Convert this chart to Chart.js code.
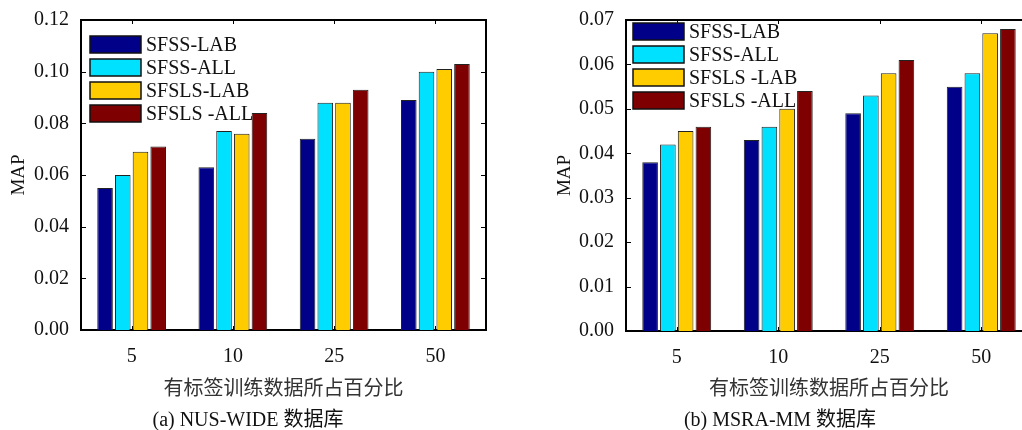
<!DOCTYPE html>
<html>
<head>
<meta charset="utf-8">
<script src="https://cdn.jsdelivr.net/npm/chart.js@4.4.0/dist/chart.umd.min.js"></script>
<style>
html, body { margin: 0; padding: 0; background: #fff; overflow: hidden; width: 1022px; height: 430px; }
.box { position: absolute; top: 0; height: 430px; }
#boxA { left: 0; width: 511px; }
#boxB { left: 511px; width: 540px; }
</style>
</head>
<body>
<div class="box" id="boxA"><canvas id="chartA" width="511" height="430"></canvas></div>
<div class="box" id="boxB"><canvas id="chartB" width="540" height="430"></canvas></div>
<script>
// data
var categories = ['5', '10', '25', '50'];
var labelsA = ['SFSS-LAB', 'SFSS-ALL', 'SFSLS-LAB', 'SFSLS -ALL'];
var labelsB = ['SFSS-LAB', 'SFSS-ALL', 'SFSLS -LAB', 'SFSLS -ALL'];
var seriesColors = ['#000088', '#00E1FF', '#FFCC00', '#7F0000'];

// (a) NUS-WIDE
var nusSfssLab = [0.055, 0.063, 0.074, 0.089];
var nusSfssAll = [0.060, 0.077, 0.088, 0.100];
var nusSfslsLab = [0.069, 0.076, 0.088, 0.101];
var nusSfslsAll = [0.071, 0.084, 0.093, 0.103];
var nusTicks = { max: 0.12, step: 0.02 };

// (b) MSRA-MM
var msraSfssLab = [0.038, 0.043, 0.049, 0.055];
var msraSfssAll = [0.042, 0.046, 0.053, 0.058];
var msraSfslsLab = [0.045, 0.050, 0.058, 0.067];
var msraSfslsAll = [0.046, 0.054, 0.061, 0.068];
var msraTicks = { max: 0.07, step: 0.01 };

var xTitle = '有标签训练数据所占百分比';
var serif = '"Liberation Serif", "Times New Roman", "Noto Sans CJK SC", serif';

// inward tick marks + box frame, matlab style
var frameTicks = {
    id: 'frameTicks',
    afterDraw: function (chart) {
        var ctx = chart.ctx, a = chart.chartArea;
        var xs = chart.scales.x, ys = chart.scales.y;
        ctx.save();
        ctx.strokeStyle = '#000';
        ctx.lineWidth = 1;
        ctx.beginPath();
        ys.ticks.forEach(function (t, i) {
            var y = Math.round(ys.getPixelForTick(i)) + 0.5;
            ctx.moveTo(a.left, y); ctx.lineTo(a.left + 5, y);
            ctx.moveTo(a.right - 5, y); ctx.lineTo(a.right, y);
        });
        xs.ticks.forEach(function (t, i) {
            var x = Math.round(xs.getPixelForTick(i)) + 0.5;
            ctx.moveTo(x, a.bottom); ctx.lineTo(x, a.bottom - 4);
            ctx.moveTo(x, a.top); ctx.lineTo(x, a.top + 4);
        });
        ctx.stroke();
        ctx.lineWidth = 2;
        ctx.beginPath();
        ctx.moveTo(a.left, a.top); ctx.lineTo(a.right, a.top); ctx.lineTo(a.right, a.bottom);
        ctx.stroke();
        ctx.restore();
    }
};

// legend drawn inside plot, no frame
var boxLegend = {
    id: 'boxLegend',
    afterDraw: function (chart, args, opts) {
        var ctx = chart.ctx, a = chart.chartArea;
        ctx.save();
        ctx.font = '20px ' + serif;
        ctx.textBaseline = 'middle';
        ctx.textAlign = 'left';
        chart.data.datasets.forEach(function (ds, i) {
            var x = a.left + opts.x, y = a.top + opts.y + i * opts.step;
            ctx.fillStyle = ds.backgroundColor;
            ctx.fillRect(x, y, 51, 17);
            ctx.strokeStyle = '#111';
            ctx.lineWidth = 1.5;
            ctx.strokeRect(x, y, 51, 17);
            ctx.fillStyle = '#111';
            ctx.fillText(ds.label, x + 56, y + 9.5);
        });
        ctx.restore();
    }
};

var caption = {
    id: 'caption',
    afterDraw: function (chart, args, opts) {
        var ctx = chart.ctx;
        ctx.save();
        ctx.font = '20px ' + serif;
        ctx.fillStyle = '#111';
        ctx.textAlign = 'center';
        ctx.textBaseline = 'middle';
        ctx.fillText(opts.text, opts.x, opts.y);
        ctx.restore();
    }
};

function makeDatasets(labels, rows) {
    return rows.map(function (vals, i) {
        return {
            label: labels[i],
            data: vals,
            backgroundColor: seriesColors[i],
            borderColor: '#222',
            borderWidth: 1,
            categoryPercentage: 0.7,
            barPercentage: 0.88
        };
    });
}

function makeChart(canvasId, labels, rows, ticks, cfg) {
    var ctx = document.getElementById(canvasId).getContext('2d');
    return new Chart(ctx, {
        type: 'bar',
        data: { labels: categories, datasets: makeDatasets(labels, rows) },
        plugins: [frameTicks, boxLegend, caption],
        options: {
            responsive: false,
            animation: false,
            layout: { padding: { left: 0, right: cfg.padRight, top: 20, bottom: 0 } },
            plugins: {
                legend: { display: false },
                tooltip: { enabled: false },
                boxLegend: cfg.legend,
                caption: cfg.caption
            },
            scales: {
                x: {
                    grid: { display: false },
                    border: { color: '#000', width: 2 },
                    ticks: { color: '#111', font: { family: serif, size: 20 }, padding: 7, maxRotation: 0 },
                    title: { display: true, text: xTitle, color: '#333', font: { family: serif, size: 20 }, padding: { top: 0, bottom: 28 } },
                    afterFit: function (s) { s.height = cfg.xHeight; }
                },
                y: {
                    min: 0,
                    max: ticks.max,
                    grid: { display: false },
                    border: { color: '#000', width: 2 },
                    ticks: {
                        stepSize: ticks.step,
                        color: '#111',
                        font: { family: serif, size: 20 },
                        padding: 4,
                        callback: function (v) { return v.toFixed(2); }
                    },
                    title: { display: true, text: 'MAP', color: '#111', font: { family: serif, size: 19 }, padding: { top: cfg.yTitlePad, bottom: 0 } },
                    afterFit: function (s) { s.width = cfg.yWidth; }
                }
            }
        }
    });
}

makeChart('chartA', labelsA, [nusSfssLab, nusSfssAll, nusSfslsLab, nusSfslsAll], nusTicks, {
    padRight: 25, yWidth: 81, xHeight: 100, yTitlePad: 8,
    legend: { x: 9, y: 16, step: 23 },
    caption: { text: '(a) NUS-WIDE 数据库', x: 248, y: 421 }
});

makeChart('chartB', labelsB, [msraSfssLab, msraSfssAll, msraSfslsLab, msraSfslsAll], msraTicks, {
    padRight: 19, yWidth: 115, xHeight: 99, yTitlePad: 43,
    legend: { x: 7, y: 3, step: 23 },
    caption: { text: '(b) MSRA-MM 数据库', x: 269, y: 421 }
});
</script>
</body>
</html>
